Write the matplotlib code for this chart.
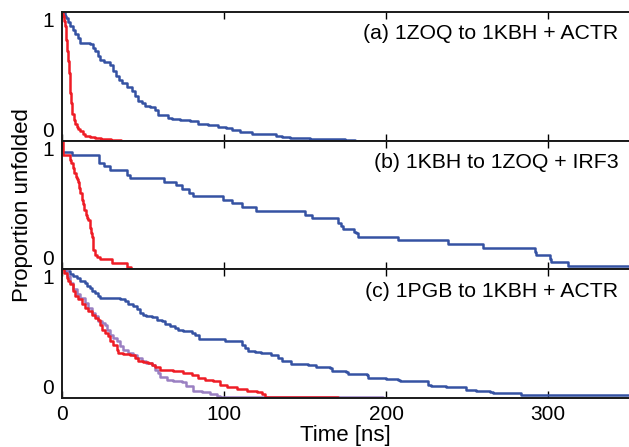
import matplotlib
matplotlib.use("Agg")
import matplotlib.pyplot as plt

plt.rcParams['font.family'] = ['Liberation Sans', 'DejaVu Sans']

# (a) 1ZOQ to 1KBH + ACTR
ta_blue = [0, 1.5, 2.5, 3.5, 5, 6.5, 8, 9.5, 11, 17, 19, 20.5, 22, 23.5, 26, 29.5, 31.5, 33, 35, 37,
           40, 43, 45, 46.5, 49, 51, 54, 57, 59, 65, 68, 73, 79, 84, 90, 96, 101, 105, 110, 117,
           132, 136, 140.5, 153, 174.5, 181]
pa_blue = [1.0, 0.97, 0.95, 0.92, 0.89, 0.86, 0.83, 0.80, 0.76, 0.75, 0.72, 0.70, 0.66, 0.63, 0.61, 0.59, 0.54, 0.50, 0.47, 0.45,
           0.42, 0.39, 0.35, 0.31, 0.29, 0.27, 0.26, 0.24, 0.20, 0.18, 0.17, 0.16, 0.15, 0.13, 0.12, 0.105, 0.095, 0.085, 0.07, 0.055,
           0.039, 0.029, 0.021, 0.013, 0.005, 0.0]
ta_red = [0, 0.5, 1, 1.5, 2, 2.5, 3, 3.5, 4, 4.5, 5, 5.5, 6, 7, 8, 9, 10, 11, 12.5, 14, 17, 20, 24, 30, 36.5]
pa_red = [1.0, 0.97, 0.93, 0.89, 0.84, 0.78, 0.70, 0.62, 0.53, 0.45, 0.37, 0.29, 0.21, 0.16, 0.13, 0.11, 0.09, 0.075, 0.055, 0.04,
          0.03, 0.024, 0.016, 0.008, 0.0]

# (b) 1KBH to 1ZOQ + IRF3
tb_blue = [0, 5.8, 22.5, 25.5, 29.7, 40, 41.8, 62.8, 70, 74, 78, 81, 99, 105, 111, 119.5, 150, 154.5, 170, 172.4,
           173.5, 180, 181.5, 182.7, 207.4, 238.3, 259.9, 291.8, 292.8, 301, 302.1, 312.4, 350]
pb_blue = [0.915, 0.885, 0.826, 0.80, 0.768, 0.734, 0.713, 0.682, 0.656, 0.622, 0.596, 0.570, 0.539, 0.513, 0.482, 0.456, 0.422, 0.396, 0.362, 0.336,
           0.31, 0.292, 0.279, 0.252, 0.227, 0.195, 0.169, 0.135, 0.109, 0.083, 0.057, 0.023, 0.023]
tb_red = [0, 0.5, 4.7, 5.4, 6.8, 7.4, 8.2, 8.9, 9.5, 10.3, 10.9, 12, 13, 13.6, 14.4, 15.5, 16.1, 17.1, 17.7, 18.5,
          19.2, 20.2, 21.2, 23.3, 30.5, 39.7, 42.4]
pb_red = [1.0, 0.89, 0.85, 0.826, 0.79, 0.75, 0.72, 0.70, 0.68, 0.63, 0.59, 0.54, 0.51, 0.46, 0.42, 0.40, 0.38, 0.32, 0.28, 0.25,
          0.15, 0.11, 0.096, 0.083, 0.049, 0.018, 0.0]

# (c) 1PGB to 1KBH + ACTR
tc_blue = [0, 1.7, 4.75, 6.8, 8.9, 10.9, 14, 15, 17.1, 18.1, 20.2, 22.2, 23.3, 35.6, 38.7, 40.8, 43.8, 45.9, 47.9, 50,
           52, 55.2, 58.2, 61.3, 63.4, 66.5, 69.6, 71.6, 74.7, 79.9, 81.9, 84.4, 100.4, 110.7, 112.8, 114.8, 118.9, 123, 129.2, 133.3,
           135.4, 141.5, 151.8, 157, 165.3, 166.3, 175.5, 176.6, 187.9, 189, 200.2, 207.4, 208.4, 225.9, 228, 237.2, 249.6, 255.8, 264, 266.1,
           283.5, 350]
pc_blue = [1.0, 0.987, 0.961, 0.948, 0.935, 0.909, 0.896, 0.87, 0.857, 0.831, 0.818, 0.792, 0.779, 0.766, 0.753, 0.727, 0.714, 0.688, 0.661, 0.648,
           0.635, 0.628, 0.609, 0.596, 0.576, 0.557, 0.544, 0.531, 0.518, 0.505, 0.492, 0.461, 0.445, 0.414, 0.388, 0.362, 0.357, 0.349, 0.336, 0.31,
           0.284, 0.263, 0.253, 0.237, 0.232, 0.206, 0.201, 0.185, 0.174, 0.154, 0.148, 0.141, 0.128, 0.102, 0.089, 0.081, 0.063, 0.055, 0.049, 0.036,
           0.023, 0.023]
tc_red = [0, 1.25, 2.7, 3.7, 4.75, 6.8, 7.8, 9.9, 11.95, 14, 16.1, 18.1, 20.2, 21.8, 23.3, 24.3, 26.4, 28.4, 29.4, 31.5,
          33.5, 34.6, 37.7, 41.8, 44.9, 46.9, 50, 53.1, 55.2, 57.2, 60.3, 68.5, 74.7, 79.9, 84, 88.1, 93.3, 97.4, 101.5, 107.7,
          113.9, 120, 123.1, 125.2, 138.6, 170]
pc_red = [1.0, 0.974, 0.935, 0.909, 0.883, 0.831, 0.792, 0.766, 0.727, 0.701, 0.675, 0.648, 0.622, 0.609, 0.57, 0.531, 0.505, 0.479, 0.44, 0.414,
          0.375, 0.349, 0.341, 0.336, 0.31, 0.289, 0.279, 0.271, 0.258, 0.24, 0.219, 0.206, 0.193, 0.18, 0.154, 0.141, 0.128, 0.102, 0.081, 0.07,
          0.055, 0.044, 0.029, 0.01, 0.005, 0.0]
tc_purple = [0, 2.7, 4.75, 6.8, 8.9, 10.9, 14, 16.1, 18.1, 20.2, 22.2, 24.3, 26.4, 27.4, 29.4, 31.5, 33.5, 35.6, 37.7, 40.8,
             43.8, 45.9, 49, 52, 55.2, 57.2, 59.3, 60.3, 64.4, 68.5, 73.7, 76.7, 80.9, 86, 91.2, 95.3, 97.4, 198]
pc_purple = [1.0, 0.948, 0.896, 0.844, 0.805, 0.779, 0.74, 0.701, 0.661, 0.635, 0.596, 0.583, 0.57, 0.531, 0.492, 0.466, 0.44, 0.401, 0.375, 0.349,
             0.336, 0.31, 0.284, 0.271, 0.258, 0.219, 0.193, 0.159, 0.141, 0.128, 0.122, 0.089, 0.055, 0.044, 0.029, 0.018, 0.005, 0.0]

titles = ['(a) 1ZOQ to 1KBH + ACTR', '(b) 1KBH to 1ZOQ + IRF3', '(c) 1PGB to 1KBH + ACTR']
xticks = [0, 100, 200, 300]

BLUE = '#3552a3'
RED = '#ee1c25'
PURPLE = '#9a80c2'

panels = [
    [(ta_blue, pa_blue, BLUE), (ta_red, pa_red, RED)],
    [(tb_blue, pb_blue, BLUE), (tb_red, pb_red, RED)],
    [(tc_blue, pc_blue, BLUE), (tc_purple, pc_purple, PURPLE), (tc_red, pc_red, RED)],
]

fig, axes = plt.subplots(3, 1, sharex=True, figsize=(6.29, 4.47), dpi=100)
fig.subplots_adjust(left=0.099, right=1.0, top=0.973, bottom=0.110, hspace=0)

for ax, curves, title in zip(axes, panels, titles):
    for t, p, c in curves:
        ax.plot(t, p, drawstyle='steps-post', color=c, lw=1.8)
    ax.set_xlim(0, 350)
    ax.set_ylim(0, 1)
    ax.set_xticks(xticks)
    ax.set_yticks([0, 1])
    ax.set_yticklabels(['0', '1'])
    ax.tick_params(axis='x', direction='in', top=True, length=5, width=1, pad=5, labelsize=15)
    ax.tick_params(axis='y', direction='in', length=0, pad=6, labelsize=15)
    ylabs = ax.get_yticklabels()
    ylabs[0].set_va('bottom')
    ylabs[1].set_va('top')
    ax.spines['right'].set_visible(False)
    for s in ['left', 'top', 'bottom']:
        ax.spines[s].set_linewidth(1.4)
        ax.spines[s].set_color('#1a1a1a')
    ax.text(0.981, 0.83, title, transform=ax.transAxes, ha='right', va='center', fontsize=15.3)

axes[-1].set_xlabel('Time [ns]', fontsize=16, labelpad=1)
fig.text(0.035, 0.541, 'Proportion unfolded', rotation=90, ha='center', va='center', fontsize=16)

fig.savefig('out.png', dpi=100)
